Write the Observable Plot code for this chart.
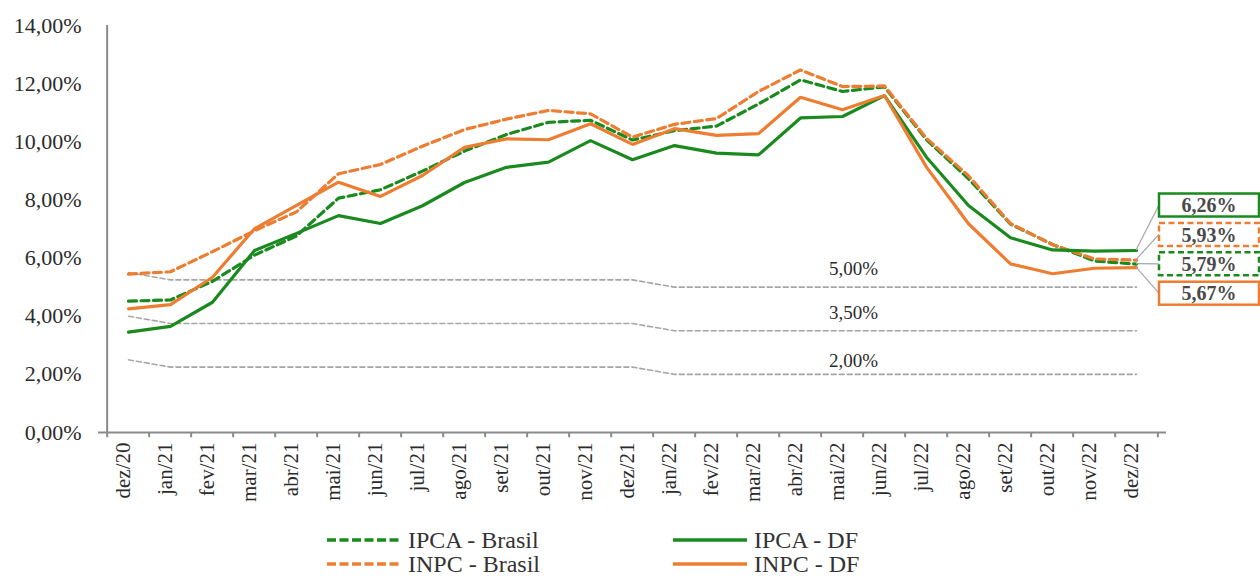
<!DOCTYPE html>
<html><head><meta charset="utf-8">
<script src="https://cdn.jsdelivr.net/npm/d3@7"></script>
<script src="https://cdn.jsdelivr.net/npm/@observablehq/plot@0.6"></script>
<style>
body{margin:0;background:#fff;font-family:"Liberation Serif","Times New Roman",serif;}
#wrap{position:relative;width:1260px;height:576px;overflow:hidden;}
#legend{position:absolute;left:0;top:520px;width:1260px;height:56px;}
.item{position:absolute;height:22px;display:flex;align-items:center;font-size:24px;color:#333;line-height:22px;white-space:nowrap;}
.item svg{margin-right:7px;}
</style></head><body>
<div id="wrap"><div id="chart"></div><div id="legend"></div></div>
<script>
const months = ["dez/20","jan/21","fev/21","mar/21","abr/21","mai/21","jun/21","jul/21","ago/21","set/21","out/21","nov/21","dez/21","jan/22","fev/22","mar/22","abr/22","mai/22","jun/22","jul/22","ago/22","set/22","out/22","nov/22","dez/22"];
const ipcaBrasil = [4.52,4.56,5.20,6.10,6.76,8.06,8.35,8.99,9.68,10.25,10.67,10.74,10.06,10.38,10.54,11.30,12.13,11.73,11.89,10.07,8.73,7.17,6.47,5.90,5.79];
const inpcBrasil = [5.45,5.53,6.22,6.94,7.59,8.90,9.22,9.85,10.42,10.78,11.08,10.96,10.16,10.60,10.80,11.73,12.47,11.90,11.92,10.12,8.83,7.19,6.46,5.97,5.93];
const ipcaDF = [3.45,3.65,4.48,6.26,6.85,7.46,7.19,7.80,8.60,9.12,9.30,10.04,9.38,9.87,9.61,9.55,10.82,10.87,11.59,9.47,7.81,6.70,6.28,6.24,6.26];
const inpcDF = [4.25,4.40,5.34,7.01,7.81,8.61,8.12,8.84,9.81,10.10,10.07,10.62,9.91,10.45,10.22,10.28,11.53,11.10,11.59,9.13,7.18,5.80,5.46,5.65,5.67];
const metaSup = [5.50,5.25,5.25,5.25,5.25,5.25,5.25,5.25,5.25,5.25,5.25,5.25,5.25,5.00,5.00,5.00,5.00,5.00,5.00,5.00,5.00,5.00,5.00,5.00,5.00];
const metaCentro = [4.00,3.75,3.75,3.75,3.75,3.75,3.75,3.75,3.75,3.75,3.75,3.75,3.75,3.50,3.50,3.50,3.50,3.50,3.50,3.50,3.50,3.50,3.50,3.50,3.50];
const metaInf = [2.50,2.25,2.25,2.25,2.25,2.25,2.25,2.25,2.25,2.25,2.25,2.25,2.25,2.00,2.00,2.00,2.00,2.00,2.00,2.00,2.00,2.00,2.00,2.00,2.00];
const yTicks = [0,2,4,6,8,10,12,14];
const seriesNames = ["IPCA - Brasil","INPC - Brasil","IPCA - DF","INPC - DF"];

const GREEN = "#1a8a1f", ORANGE = "#ED7D31", GRAY = "#A6A6A6", AXIS = "#8a8a8a", TXT = "#2b2b2b";
const fmt = v => v.toFixed(2).replace(".", ",") + "%";
const series = [
  {name: seriesNames[0], values: ipcaBrasil, color: GREEN, dash: true},
  {name: seriesNames[1], values: inpcBrasil, color: ORANGE, dash: true},
  {name: seriesNames[2], values: ipcaDF, color: GREEN, dash: false},
  {name: seriesNames[3], values: inpcDF, color: ORANGE, dash: false}
];
const long = arr => arr.map((v, i) => ({month: months[i], value: v}));

const W = 1260, H = 520, mL = 98, mR = 94, mT = 25, mB = 88;
const step = (W - mL - mR) / months.length;
const metas = [metaSup, metaCentro, metaInf];
const metaLabelDy = [-18, -18, -13];

const plot = Plot.plot({
  width: W, height: H, marginLeft: mL, marginRight: mR, marginTop: mT, marginBottom: mB,
  style: {fontFamily: "'Liberation Serif','Times New Roman',serif", fontSize: "21px", color: TXT, background: "#fff", overflow: "visible"},
  x: {type: "point", domain: months, padding: 0.5, label: null},
  y: {domain: [0, 14], label: null},
  marks: [
    Plot.axisY({ticks: yTicks, tickSize: 0, tickPadding: 17, tickFormat: fmt, fontSize: 22, label: null, fill: TXT}),
    Plot.axisX({tickSize: 0, tickRotate: -90, tickPadding: 10, dx: -5, fontSize: 21, label: null, fill: TXT}),
    ...metas.map(m => Plot.line(long(m), {x: "month", y: "value", stroke: GRAY, strokeWidth: 1.6, strokeDasharray: "5,3"})),
    ...metas.map((m, i) => Plot.text([m[m.length - 1]], {x: () => months[17], y: d => d, text: d => fmt(d), dx: 11, dy: metaLabelDy[i], fontSize: 19, fill: TXT})),
    Plot.ruleY([0], {stroke: AXIS, strokeWidth: 2}),
    Plot.ruleX([months[0]], {dx: -step / 2, stroke: AXIS, strokeWidth: 2}),
    Plot.ruleX(months, {x: d => d, y1: 0, y2: -0.18, dx: -step / 2, stroke: AXIS, strokeWidth: 2}),
    Plot.ruleX([months[months.length - 1]], {y1: 0, y2: -0.18, dx: step / 2, stroke: AXIS, strokeWidth: 2}),
    ...series.map(s => Plot.line(long(s.values), {x: "month", y: "value", stroke: s.color, strokeWidth: 3.2, strokeDasharray: s.dash ? "8,4.5" : null, strokeLinejoin: "miter"}))
  ]
});
document.getElementById("chart").appendChild(plot);

// end-of-series labels, placed with the plot's own scales
const xs = plot.scale("x"), ys = plot.scale("y");
const svg = d3.select(plot);
const last = months.length - 1;
const ends = series.map(s => ({...s, v: s.values[last]})).sort((a, b) => b.v - a.v);
const xEnd = xs.apply(months[last]);
const meanY = ys.apply(d3.mean(ends, d => d.v));
const g = svg.append("g");
ends.forEach((d, i) => {
  const cy = meanY - 11 + (i - 1.5) * 29.4;
  const bx = xEnd + 23;
  g.append("line").attr("x1", xEnd).attr("y1", ys.apply(d.v)).attr("x2", bx).attr("y2", cy)
    .attr("stroke", GRAY).attr("stroke-width", 1.2);
  g.append("rect").attr("x", bx).attr("y", cy - 11.5).attr("width", 100).attr("height", 23)
    .attr("fill", "#fff").attr("stroke", d.color).attr("stroke-width", 2.5)
    .attr("stroke-dasharray", d.dash ? "6,3.5" : null);
  g.append("text").attr("x", bx + 50).attr("y", cy).attr("dy", "0.36em").attr("text-anchor", "middle")
    .attr("font-weight", "bold").attr("font-size", 20).attr("fill", "#4a4a4a")
    .attr("font-family", "'Liberation Serif','Times New Roman',serif").text(fmt(d.v));
});

// legend
const legendPos = [
  {left: 327, top: 9}, {left: 327, top: 33}, {left: 673, top: 9}, {left: 673, top: 33}
];
const leg = document.getElementById("legend");
series.forEach((s, i) => {
  const div = document.createElement("div");
  div.className = "item";
  div.style.left = legendPos[i].left + "px";
  div.style.top = legendPos[i].top + "px";
  div.innerHTML = `<svg width="74" height="6"><line x1="0" x2="74" y1="3" y2="3" stroke="${s.color}" stroke-width="3.5" ${s.dash ? 'stroke-dasharray="9,3.5"' : ''}/></svg><span>${s.name}</span>`;
  leg.appendChild(div);
});
</script>
</body></html>
